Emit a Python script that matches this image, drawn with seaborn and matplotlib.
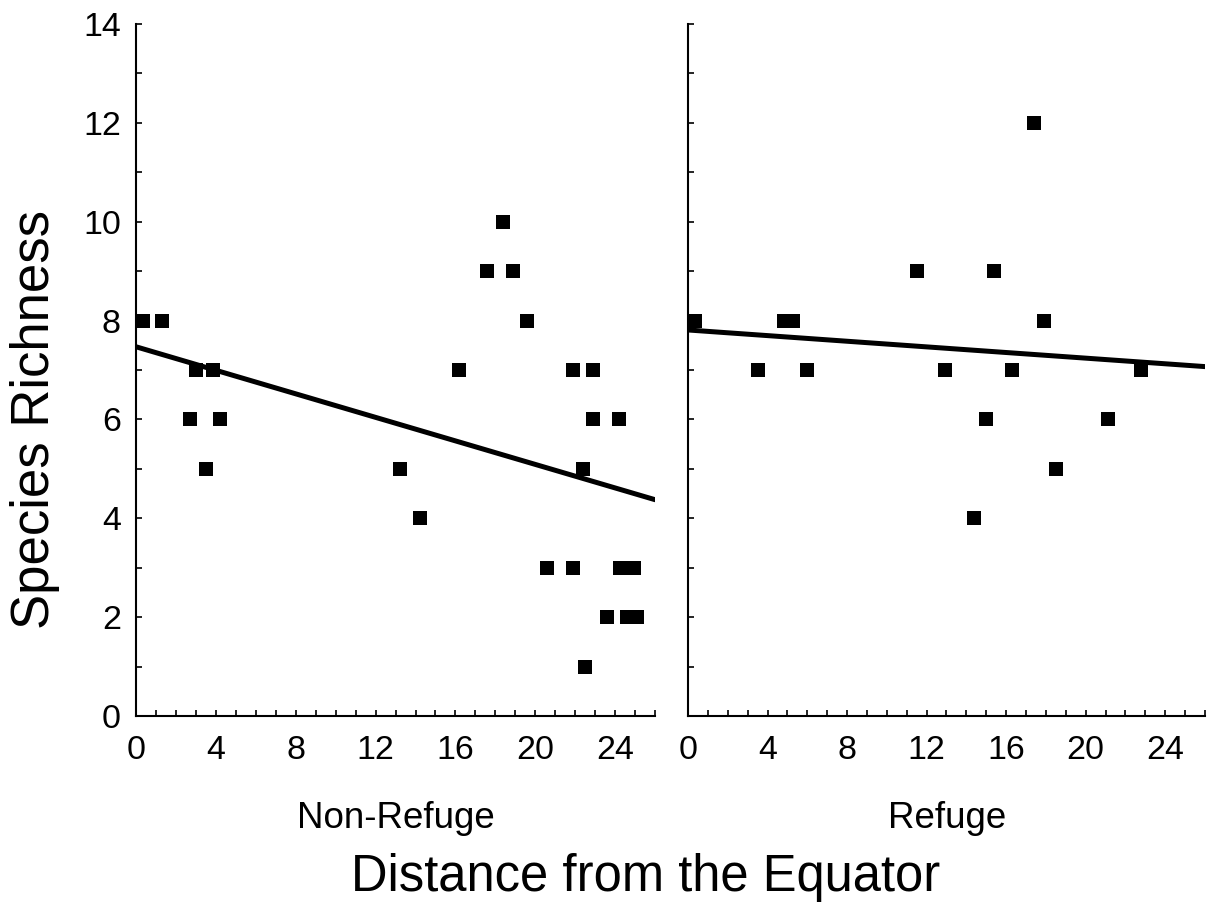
import matplotlib
matplotlib.use("Agg")
import matplotlib.pyplot as plt
from matplotlib.ticker import MultipleLocator
import numpy as np
import pandas as pd
import seaborn as sns

# distance from the equator / species richness
non_refuge_x = [0.35, 1.3, 3.0, 3.85, 2.7, 4.2, 3.5, 13.2, 14.2, 16.2, 17.6, 18.4, 18.9, 19.6,
                20.6, 21.9, 21.9, 22.4, 22.5, 22.9, 22.9, 23.6, 24.2, 24.25, 24.6, 24.95, 25.1]
non_refuge_y = [8, 8, 7, 7, 6, 6, 5, 5, 4, 7, 9, 10, 9, 8,
                3, 7, 3, 5, 1, 7, 6, 2, 6, 3, 2, 3, 2]

refuge_x = [0.35, 3.5, 4.85, 5.3, 6.0, 11.5, 12.9, 14.4, 15.0, 15.4, 16.3, 17.4, 17.9, 18.5, 21.1, 22.8]
refuge_y = [8, 7, 8, 8, 7, 9, 7, 4, 6, 9, 7, 12, 8, 5, 6, 7]

# fitted lines (intercept, slope)
non_refuge_fit = (7.47, -0.119)
refuge_fit = (7.81, -0.0285)

panel_labels = ["Non-Refuge", "Refuge"]
x_ticks = [0, 4, 8, 12, 16, 20, 24]
y_ticks = [0, 2, 4, 6, 8, 10, 12, 14]

sns.set_theme(style="ticks")
plt.rcParams["font.family"] = ["Liberation Sans", "DejaVu Sans"]
plt.rcParams["text.color"] = "black"
plt.rcParams["xtick.color"] = "black"
plt.rcParams["ytick.color"] = "black"
plt.rcParams["axes.labelcolor"] = "black"

fig = plt.figure(figsize=(12.19, 9.09), dpi=100)
ax_left = fig.add_axes([0.1116, 0.2123, 0.4258, 0.7613])
ax_right = fig.add_axes([0.5644, 0.2123, 0.4241, 0.7613])

panels = [
    (ax_left, non_refuge_x, non_refuge_y, non_refuge_fit),
    (ax_right, refuge_x, refuge_y, refuge_fit),
]

for k, (ax, xs, ys, fit) in enumerate(panels):
    df = pd.DataFrame({"x": xs, "y": ys})
    sns.scatterplot(data=df, x="x", y="y", ax=ax, marker="s", s=100,
                    color="black", linewidth=0, clip_on=False, zorder=3)
    ax.axline((0, fit[0]), slope=fit[1], color="black", linewidth=3.6, zorder=2)

    ax.set_xlim(0, 26)
    ax.set_ylim(0, 14)
    ax.set_xticks(x_ticks)
    ax.set_yticks(y_ticks)
    ax.xaxis.set_minor_locator(MultipleLocator(1))
    ax.yaxis.set_minor_locator(MultipleLocator(1))
    ax.tick_params(which="both", direction="in", length=4, width=1.2, color="black")
    ax.tick_params(axis="x", which="major", pad=14, labelsize=24.5, labelcolor="black")
    ax.tick_params(axis="y", which="major", pad=11, labelsize=24.5, labelcolor="black")
    ax.set_xlabel("")
    ax.set_ylabel("")
    for side in ["top", "right"]:
        ax.spines[side].set_visible(False)
    for side in ["left", "bottom"]:
        ax.spines[side].set_linewidth(1.5)
        ax.spines[side].set_color("black")
    if k == 1:
        ax.tick_params(axis="y", labelleft=False)

fig.text(0.325, 0.100, panel_labels[0], ha="center", va="center", fontsize=26.5, color="black")
fig.text(0.777, 0.100, panel_labels[1], ha="center", va="center", fontsize=26.5, color="black")
fig.text(0.5295, 0.035, "Distance from the Equator", ha="center", va="center", fontsize=36.5, color="black")
fig.text(0.029, 0.538, "Species Richness", ha="center", va="center", rotation=90, fontsize=38, color="black")

fig.savefig("out.png", dpi=100)
